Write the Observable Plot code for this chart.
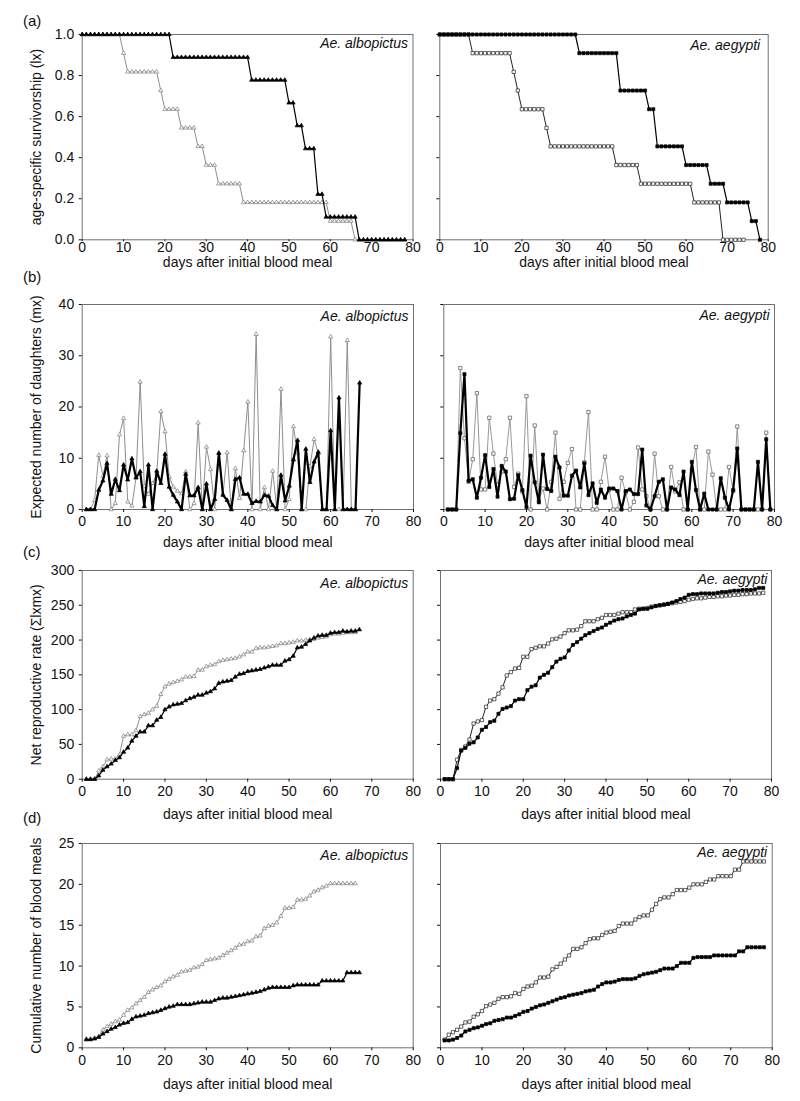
<!DOCTYPE html>
<html><head><meta charset="utf-8">
<script src="https://cdn.jsdelivr.net/npm/d3@7"></script>
<script src="https://cdn.jsdelivr.net/npm/@observablehq/plot@0.6"></script>
<style>
body{margin:0;background:#fff;}
#fig{position:relative;width:800px;height:1101px;background:#fff;font-family:"Liberation Sans",Arial,Helvetica,sans-serif;overflow:hidden;}
#fig svg{position:absolute;overflow:visible;}
.lab{position:absolute;font-size:15px;color:#111;line-height:1;}
</style></head><body><div id="fig"></div>
<script>
// ---------------- DATA ----------------
const xTicks = [0,10,20,30,40,50,60,70,80];
const speciesNames = ["Ae. albopictus","Ae. aegypti"];
const xTitle = "days after initial blood meal";
const yTitles = ["age-specific survivorship (lx)","Expected number of daughters (mx)","Net reproductive rate (\u03a3lxmx)","Cumulative number of blood meals"];
const rowLetters = ["(a)","(b)","(c)","(d)"];

// (a) survivorship lx, day 0 onward
const aAlbOpen = [
 1,1,1,1,1,1,1,1,1,1,
 0.909,0.818,0.818,0.818,0.818,0.818,0.818,0.818,0.818,0.727,
 0.636,0.636,0.636,0.636,0.545,0.545,0.545,0.545,0.455,0.455,
 0.364,0.364,0.364,0.273,0.273,0.273,0.273,0.273,0.273,0.182,
 0.182,0.182,0.182,0.182,0.182,0.182,0.182,0.182,0.182,0.182,
 0.182,0.182,0.182,0.182,0.182,0.182,0.182,0.182,0.182,0.182,
 0.091,0.091,0.091,0.091,0.091,0.091,0,0,0,0,
 0,0,0,0,0,0,0,0,0];
const aAlbFilled = [
 1,1,1,1,1,1,1,1,1,1,
 1,1,1,1,1,1,1,1,1,1,
 1,1,0.889,0.889,0.889,0.889,0.889,0.889,0.889,0.889,
 0.889,0.889,0.889,0.889,0.889,0.889,0.889,0.889,0.889,0.889,
 0.889,0.778,0.778,0.778,0.778,0.778,0.778,0.778,0.778,0.778,
 0.667,0.667,0.556,0.556,0.444,0.444,0.444,0.222,0.222,0.111,
 0.111,0.111,0.111,0.111,0.111,0.111,0.111,0,0,0,
 0,0,0,0,0,0,0,0,0];
const aAegOpen = [
 1,1,1,1,1,1,1,1,0.909,0.909,
 0.909,0.909,0.909,0.909,0.909,0.909,0.909,0.909,0.818,0.727,
 0.636,0.636,0.636,0.636,0.636,0.636,0.545,0.455,0.455,0.455,
 0.455,0.455,0.455,0.455,0.455,0.455,0.455,0.455,0.455,0.455,
 0.455,0.455,0.455,0.364,0.364,0.364,0.364,0.364,0.364,0.273,
 0.273,0.273,0.273,0.273,0.273,0.273,0.273,0.273,0.273,0.273,
 0.273,0.273,0.182,0.182,0.182,0.182,0.182,0.182,0.182,0,
 0,0,0,0,0];
const aAegFilled = [
 1,1,1,1,1,1,1,1,1,1,
 1,1,1,1,1,1,1,1,1,1,
 1,1,1,1,1,1,1,1,1,1,
 1,1,1,1,0.909,0.909,0.909,0.909,0.909,0.909,
 0.909,0.909,0.909,0.909,0.727,0.727,0.727,0.727,0.727,0.727,
 0.727,0.636,0.636,0.455,0.455,0.455,0.455,0.455,0.455,0.455,
 0.364,0.364,0.364,0.364,0.364,0.364,0.273,0.273,0.273,0.273,
 0.182,0.182,0.182,0.182,0.182,0.182,0.091,0.091,0];

// (b) expected daughters mx, day 1 onward
const bAlbOpen = [
 0,0,1.8,10.6,6.5,10.5,0,1.2,14.6,17.8,
 1.5,0.7,6.2,24.9,4.5,3,5.1,7,19.1,15.2,
 6.4,4.4,3.6,3.1,7.4,0,1.2,16.9,0,12.2,
 7.8,0,11,3,11.1,0,8,2.2,11.5,21,
 0,34.2,0,4.3,0,7.5,0,23.5,0,2,
 16.2,11,0,0,8.4,13.7,11,0,0,33.7,
 0,0,0,33,0,0];
const bAlbFilled = [
 0,0,0,3.8,5.6,9,3,5.9,3.7,8.7,
 5.8,9.9,6.2,7.4,0.6,8.7,0,7.5,5.1,10.8,
 4.4,2.8,1.5,0,6.9,2.7,2.7,4.3,0,5,
 0,2,11,2.8,1.8,0,5.9,6.2,3,3,
 1.2,1.6,1.5,2.8,2.6,0.8,0,6.7,1.7,4.6,
 9.7,13.5,0,11.8,5.3,9.3,11.2,0,0,15.4,
 0,21.8,0,0,0,0,24.7];
const bAegOpen = [
 0,0,0,27.6,13.9,5.4,9.8,22.7,3.9,3.9,
 17.9,10.9,4.8,7.4,9.8,17.9,4.4,7,3.5,22.1,
 0,16.4,1.8,4.1,0,5.4,15,2.1,5.4,9.1,
 11.8,0,0,9.2,19,0,0,5.4,10.3,3.8,
 0,0,6.2,3.3,0,1.5,12.1,3.9,2.6,0,
 10.9,2.6,0,0,8.3,3.5,5.3,0,0,7.8,
 12.2,0,0,11.3,6.8,0,0,0,8.3,3.6,
 16.2,0,0,0,0,0,0,15,0];
const bAegFilled = [
 0,0,0,14.9,26.4,5.6,5.9,2.3,6.2,10.6,
 4.4,7.9,2.5,8.5,7.4,2,2.1,6.7,3.8,0.5,
 10.5,5.3,1.4,10.7,4,3.6,10.3,8.2,2.7,2.7,
 6.6,7.6,4.3,9,2.8,5.1,1.3,3.9,2.3,4.1,
 4.1,3.6,0,3.6,3.9,3,3,11.7,0.8,0,
 2.6,5.4,5.9,0,4.3,3.9,2.8,7.4,0,9.3,
 3.8,0,3.1,0,0,0,6.1,2.3,0,3.8,
 11.9,0,0,0,0,9.3,0,13.7,0];

// (c) net reproductive rate, day 1 onward
const cAlbOpen = [
 0,0,0,12,18,28,29,29,35,62,
 64,64,70,90,93,95,100,105,122,133,
 137,139,141,143,147,147,148,157,157,162,
 164,165,169,171,172,173,174,176,179,183,
 183,188,189,189,190,191,192,195,195,196,
 197,199,199,200,201,201,203,204,205,208,
 209,209,210,211,211,211];
const cAlbFilled = [
 0,0,0,5,13,18,22,27,31,39,
 45,55,62,68,68,77,77,85,89,100,
 104,107,108,109,113,116,118,121,121,124,
 126,130,138,140,141,142,147,151,152,155,
 156,157,158,160,162,164,164,164,170,172,
 177,189,190,194,199,203,206,207,207,210,
 211,211,213,212,213,213,215];
const cAegOpen = [
 0,0,0,28,42,47,57,80,83,85,
 104,113,115,123,132,149,154,159,160,176,
 176,187,189,191,191,195,201,202,205,210,
 214,214,215,220,227,227,227,230,232,236,
 236,236,238,240,240,240,244,245,245,246,
 248,249,250,251,252,253,254,255,256,258,
 259,260,260,261,262,262,263,263,264,264,
 265,265,266,266,267,267,267,268];
const cAegFilled = [
 0,0,0,16,41,45,51,53,60,71,
 75,82,84,94,101,103,105,113,115,115,
 128,133,135,146,150,153,161,169,173,175,
 185,193,197,202,207,210,213,216,218,222,
 225,228,230,231,234,236,238,244,245,245,
 247,249,250,251,252,254,256,259,261,265,
 266,266,267,267,267,267,268,269,269,270,
 271,271,272,272,272,273,275,275];

// (d) cumulative blood meals, day 1 onward
const dAlbOpen = [
 1.1,1.1,1.2,1.4,2.2,2.6,2.9,3.2,3.4,4.0,
 4.6,4.9,5.4,5.8,6.2,6.8,7.1,7.4,7.6,8.1,
 8.4,8.7,8.9,9.3,9.4,9.5,9.8,9.9,10.2,10.7,
 10.8,10.9,11.0,11.3,11.6,11.9,12.2,12.6,12.7,13.0,
 13.1,13.6,13.7,14.6,14.9,15.0,15.3,16.1,17.1,17.1,
 17.2,18.1,18.1,18.2,18.6,19.1,19.3,19.6,19.8,20.1,
 20.1,20.1,20.1,20.1,20.1,20.1];
const dAlbFilled = [
 1.0,1.0,1.1,1.3,1.7,2.0,2.3,2.5,2.8,3.0,
 3.1,3.5,3.8,3.9,4.0,4.2,4.3,4.4,4.6,4.8,
 5.0,5.1,5.3,5.3,5.3,5.3,5.4,5.5,5.6,5.6,
 5.6,5.8,6.0,6.1,6.1,6.2,6.3,6.4,6.5,6.6,
 6.7,6.8,6.9,7.1,7.3,7.4,7.4,7.4,7.4,7.4,
 7.6,7.7,7.7,7.7,7.7,7.7,7.7,8.2,8.2,8.2,
 8.2,8.2,8.2,9.2,9.2,9.2,9.2];
const dAegOpen = [
 1.0,1.6,1.9,2.2,2.6,3.1,3.2,3.8,4.1,4.5,
 5.1,5.3,5.5,6.0,6.2,6.2,6.3,6.7,6.6,7.2,
 7.5,7.6,8.0,8.6,8.6,8.7,9.6,9.9,10.3,10.8,
 11.3,12.1,12.1,12.3,12.8,13.3,13.4,13.4,13.8,14.1,
 14.2,14.3,14.9,15.2,15.2,15.2,15.7,16.0,16.2,16.2,
 16.9,17.6,18.2,18.4,18.4,18.8,19.3,19.3,19.3,19.6,
 20.0,20.0,20.0,20.3,20.6,20.6,21.0,21.0,21.0,21.0,
 21.8,21.8,22.8,22.8,22.8,22.8,22.8,22.8];
const dAegFilled = [
 0.9,0.9,1.0,1.2,1.5,2.0,2.2,2.4,2.5,2.7,
 2.9,3.0,3.3,3.4,3.5,3.7,3.7,3.9,4.1,4.4,
 4.5,4.8,5.0,5.2,5.3,5.5,5.7,5.9,6.1,6.2,
 6.4,6.5,6.6,6.7,6.9,7.0,7.1,7.5,7.8,8.0,
 8.0,8.1,8.3,8.4,8.4,8.4,8.5,8.8,9.0,9.1,
 9.2,9.3,9.5,9.7,9.7,9.7,10.0,10.4,10.4,10.4,
 11.0,11.1,11.1,11.1,11.1,11.3,11.3,11.3,11.3,11.3,
 11.3,11.8,11.8,12.3,12.3,12.3,12.3,12.3];

// ---------------- DRAWING ----------------
const FONT = "'Liberation Sans', Arial, Helvetica, sans-serif";
const fig = document.getElementById("fig");
const toRows = (vals, start) => vals.map((v, i) => ({day: start + i, v}));

const ST = {
  grayTri:  {symbol: "triangle", fill: "white", stroke: "#7d7d7d", line: "#8e8e8e", lw: 1, r: 1.55},
  blackTri: {symbol: "triangle", fill: "black", stroke: "black", line: "black", lw: 1.2, r: 1.55},
  openSq:   {symbol: "square", fill: "white", stroke: "#222", line: "#222", lw: 1, r: 1.85},
  graySq:   {symbol: "square", fill: "white", stroke: "#555", line: "#999", lw: 1, r: 1.85},
  blackSq:  {symbol: "square", fill: "black", stroke: "black", line: "black", lw: 1.2, r: 1.75}
};

function seriesMarks(vals, start, st, lw) {
  const data = toRows(vals, start);
  return [
    Plot.line(data, {x: "day", y: "v", stroke: st.line, strokeWidth: lw ?? st.lw}),
    Plot.dot(data, {x: "day", y: "v", symbol: st.symbol, r: st.r, fill: st.fill, stroke: st.stroke, strokeWidth: 0.7})
  ];
}

const rows = [
  {y0: 34, y1: 239.3, L: [81.7, 412.5], R: [439.3, 767.7], yDomain: [0, 1], yTicks: [0, 0.2, 0.4, 0.6, 0.8, 1.0], yFmt: d3.format(".1f"),
   xTickSize: 2, xTickPad: 0, titleDy: 23, letterY: 13, spDy: [4, 6], spDx: [-5, -8],
   left: [[aAlbOpen, 0, ST.grayTri], [aAlbFilled, 0, ST.blackTri]],
   right: [[aAegOpen, 0, ST.openSq], [aAegFilled, 0, ST.blackSq]]},
  {y0: 304.3, y1: 509.3, L: [81.7, 413], R: [443.3, 774], yDomain: [0, 40], yTicks: [0, 10, 20, 30, 40], yFmt: d3.format("d"),
   xTickSize: 3, xTickPad: 4, titleDy: 33, letterY: 269, spDy: [7, 6], spDx: [-5, -5],
   left: [[bAlbOpen, 1, ST.grayTri], [bAlbFilled, 1, ST.blackTri, 2.2]],
   right: [[bAegOpen, 1, ST.graySq], [bAegFilled, 1, ST.blackSq, 2.2]]},
  {y0: 570, y1: 778.7, L: [81.7, 412.7], R: [440, 771], yDomain: [0, 300], yTicks: [0, 50, 100, 150, 200, 250, 300], yFmt: d3.format("d"),
   xTickSize: 3, xTickPad: 4, titleDy: 35, letterY: 544, spDy: [8, 3.5], spDx: [-5, -4],
   left: [[cAlbOpen, 1, ST.grayTri], [cAlbFilled, 1, ST.blackTri]],
   right: [[cAegOpen, 1, ST.openSq], [cAegFilled, 1, ST.blackSq]]},
  {y0: 843, y1: 1047.3, L: [81.7, 412.7], R: [440, 771.7], yDomain: [0, 25], yTicks: [0, 5, 10, 15, 20, 25], yFmt: d3.format("d"),
   xTickSize: 3, xTickPad: 4, titleDy: 37, letterY: 810, spDy: [7, 3.7], spDx: [-5, -5],
   left: [[dAlbOpen, 1, ST.grayTri], [dAlbFilled, 1, ST.blackTri]],
   right: [[dAegOpen, 1, ST.openSq], [dAegFilled, 1, ST.blackSq]]}
];

rows.forEach((row, ri) => {
  [0, 1].forEach(side => {
    const isRight = side === 1;
    const svgLeft = isRight ? 420 : 0;
    const width = isRight ? 380 : 420;
    const [px0, px1] = isRight ? row.R : row.L;
    const mt = 20, mb = 55;
    const H = (row.y1 - row.y0) + mt + mb;
    const marks = [
      Plot.frame({stroke: "#707070"}),
      Plot.axisY({ticks: row.yTicks, tickSize: 3, tickPadding: 5, tickFormat: isRight ? () => "" : row.yFmt, label: null}),
      Plot.axisX({ticks: xTicks, tickSize: row.xTickSize, tickPadding: row.xTickPad, tickFormat: d3.format("d"), label: null})
    ];
    (isRight ? row.right : row.left).forEach(([vals, start, st, lw]) => marks.push(...seriesMarks(vals, start, st, lw)));
    marks.push(Plot.text([speciesNames[side]], {text: d => d, frameAnchor: "top-right", dx: row.spDx[side], dy: row.spDy[side], lineAnchor: "top", textAnchor: "end", fontStyle: "italic", fill: "#111"}));
    marks.push(Plot.text([xTitle], {text: d => d, frameAnchor: "bottom", dy: row.titleDy, lineAnchor: "middle", textAnchor: "middle", fill: "#111"}));
    if (!isRight) marks.push(Plot.text([yTitles[ri]], {text: d => d, frameAnchor: "left", dx: -46, rotate: -90, textAnchor: "middle", lineAnchor: "middle", fill: "#111"}));
    const svg = Plot.plot({
      width, height: H,
      marginLeft: px0 - svgLeft, marginRight: svgLeft + width - px1,
      marginTop: mt, marginBottom: mb,
      x: {domain: [0, 80]},
      y: {domain: row.yDomain},
      style: {background: "transparent", fontFamily: FONT, fontSize: "14px", color: "#111", overflow: "visible"},
      marks
    });
    svg.style.left = svgLeft + "px";
    svg.style.top = (row.y0 - mt) + "px";
    fig.appendChild(svg);
  });
  const lab = document.createElement("div");
  lab.className = "lab";
  lab.textContent = rowLetters[ri];
  lab.style.left = "23px";
  lab.style.top = row.letterY + "px";
  fig.appendChild(lab);
});
</script></body></html>
